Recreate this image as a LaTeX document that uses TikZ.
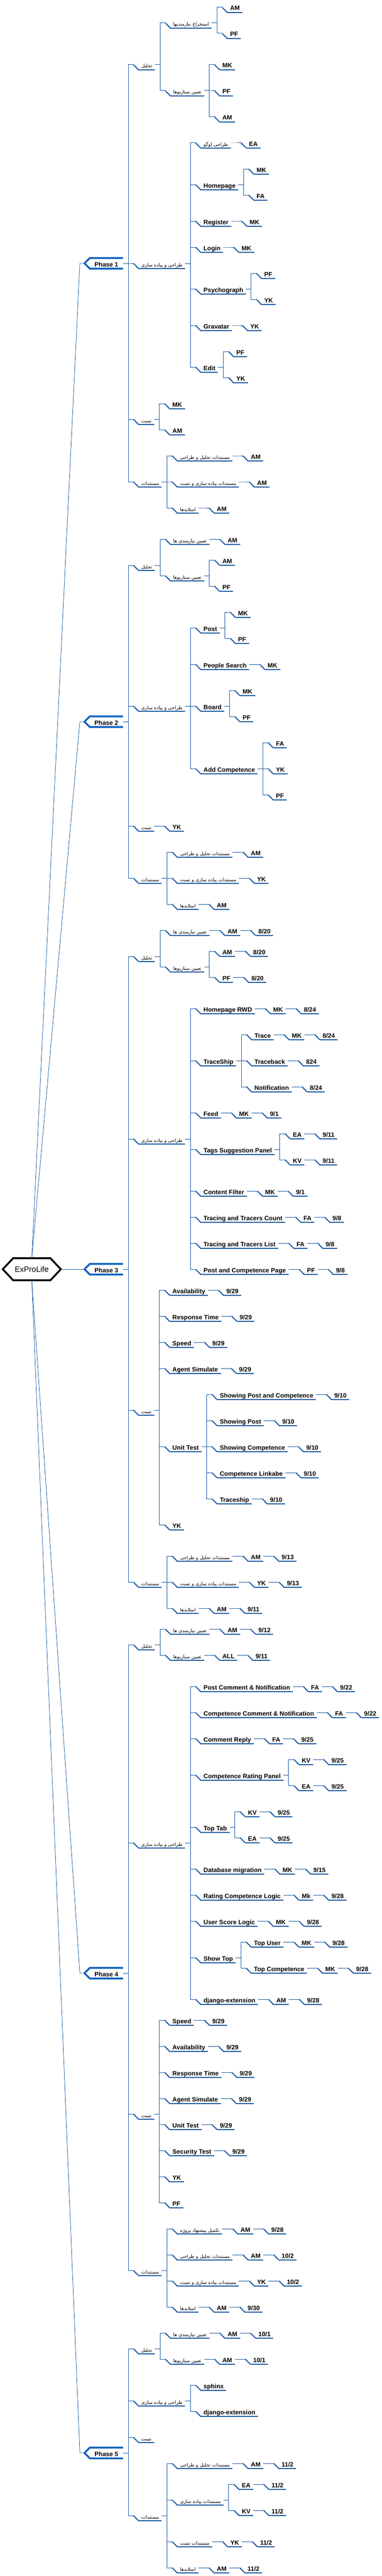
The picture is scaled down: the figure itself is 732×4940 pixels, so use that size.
\documentclass[tikz,border=0pt]{standalone}
\usepackage{fontspec}
\setmainfont{Liberation Sans}
\newfontfamily\farsifont[Script=Arabic]{DejaVu Sans}
\TeXXeTstate=1
\usetikzlibrary{positioning}
\definecolor{mapblue}{RGB}{28,92,164}
\definecolor{phaseblue}{RGB}{17,99,192}
\newcommand{\fatxt}[1]{\beginR#1\endR}
\tikzset{conn/.style = {draw=mapblue, line width=1pt}}
\tikzset{uline/.style = {draw=mapblue, line width=2pt}}
\tikzset{rootline/.style = {draw=mapblue, line width=0.8pt}}
\tikzset{topic/.style = {anchor=west, inner xsep=5pt, inner ysep=4pt, text height=12pt, text depth=0pt,
    font=\bfseries\fontsize{12}{14}\selectfont,
    append after command={([xshift=-10pt]\tikzlastnode.west) edge[uline] (\tikzlastnode.south west)
      (\tikzlastnode.south west) edge[uline] (\tikzlastnode.south east)}}}
\tikzset{fa/.style = {topic, font=\farsifont\fontsize{9}{11}\selectfont}}
\tikzset{kid/.style = {xshift=30pt}}
\tikzset{branch/.style = {to path={(\tikztostart.east) -- ++(10pt,0) |- ([xshift=-10pt]\tikztotarget.west)}}}
\tikzset{phase/.style = {anchor=east, inner xsep=9pt, inner ysep=4pt, text height=12pt, text depth=0pt,
    font=\bfseries\fontsize{12}{14}\selectfont}}
\tikzset{phaseline/.style = {draw=phaseblue, line width=3.5pt}}
\tikzset{rootnode/.style = {minimum width=71pt, minimum height=42pt, inner sep=0pt, font=\fontsize{15}{18}\selectfont}}

\begin{document}
\begin{tikzpicture}[x=1pt, y=-1pt]
  \useasboundingbox (0,0) rectangle (732,4940);

  \node[rootnode] (root) at (61,2434) {ExProLife};
  \draw[line width=3.5pt] (root.north west) -- (root.north east) -- ([xshift=20pt]root.east)
    -- (root.south east) -- (root.south west) -- ([xshift=-20pt]root.west) -- cycle;

  \node[phase] (p1) at (236,505) {Phase 1};
  \node[phase] (p2) at (236,1384) {Phase 2};
  \node[phase] (p3) at (236,2434) {Phase 3};
  \node[phase] (p4) at (236,3784) {Phase 4};
  \node[phase] (p5) at (236,4704) {Phase 5};
  \foreach \i in {1,...,5} {
    \draw[phaseline] (p\i.north east) -- (p\i.north west) -- ([xshift=-10pt]p\i.west)
      -- (p\i.south west) -- (p\i.south east);
  }
  \foreach \p in {p1,p2} {
    \draw[rootline] (root.north) -- ([xshift=-19pt]\p.west) -- ([xshift=-10pt]\p.west);
  }
  \foreach \p in {p4,p5} {
    \draw[rootline] (root.south) -- ([xshift=-19pt]\p.west) -- ([xshift=-10pt]\p.west);
  }
  \draw[rootline] ([xshift=20pt]root.east) -- ([xshift=-10pt]p3.west);

  % Phase 1
  \node[fa, kid] (p1a) at (p1.east |- 0,124) {\fatxt{تحلیل}};
  \node[fa, kid] (p1a1) at (p1a.east |- 0,44) {\fatxt{استخراج نیازمندیها}};
  \node[topic, kid] (p1a1a) at (p1a1.east |- 0,14) {AM};
  \node[topic, kid] (p1a1b) at (p1a1.east |- 0,64) {PF};
  \node[fa, kid] (p1a2) at (p1a.east |- 0,174) {\fatxt{تعیین سناریوها}};
  \node[topic, kid] (p1a2a) at (p1a2.east |- 0,124) {MK};
  \node[topic, kid] (p1a2b) at (p1a2.east |- 0,174) {PF};
  \node[topic, kid] (p1a2c) at (p1a2.east |- 0,224) {AM};
  \node[fa, kid] (p1b) at (p1.east |- 0,505) {\fatxt{طراحی و پیاده سازی}};
  \node[fa, kid] (p1b1) at (p1b.east |- 0,274) {\fatxt{طراحی لوگو}};
  \node[topic, right=30pt of p1b1] (p1b1a) {EA};
  \node[topic, kid] (p1b2) at (p1b.east |- 0,354) {Homepage};
  \node[topic, kid] (p1b2a) at (p1b2.east |- 0,324) {MK};
  \node[topic, kid] (p1b2b) at (p1b2.east |- 0,374) {FA};
  \node[topic, kid] (p1b3) at (p1b.east |- 0,424) {Register};
  \node[topic, right=30pt of p1b3] (p1b3a) {MK};
  \node[topic, kid] (p1b4) at (p1b.east |- 0,474) {Login};
  \node[topic, right=30pt of p1b4] (p1b4a) {MK};
  \node[topic, kid] (p1b5) at (p1b.east |- 0,554) {Psychograph};
  \node[topic, kid] (p1b5a) at (p1b5.east |- 0,524) {PF};
  \node[topic, kid] (p1b5b) at (p1b5.east |- 0,574) {YK};
  \node[topic, kid] (p1b6) at (p1b.east |- 0,624) {Gravatar};
  \node[topic, right=30pt of p1b6] (p1b6a) {YK};
  \node[topic, kid] (p1b7) at (p1b.east |- 0,704) {Edit};
  \node[topic, kid] (p1b7a) at (p1b7.east |- 0,674) {PF};
  \node[topic, kid] (p1b7b) at (p1b7.east |- 0,724) {YK};
  \node[fa, kid] (p1c) at (p1.east |- 0,804) {\fatxt{تست}};
  \node[topic, kid] (p1c1) at (p1c.east |- 0,774) {MK};
  \node[topic, kid] (p1c2) at (p1c.east |- 0,824) {AM};
  \node[fa, kid] (p1d) at (p1.east |- 0,924) {\fatxt{مستندات}};
  \node[fa, kid] (p1d1) at (p1d.east |- 0,874) {\fatxt{مستندات تحلیل و طراحی}};
  \node[topic, right=30pt of p1d1] (p1d1a) {AM};
  \node[fa, kid] (p1d2) at (p1d.east |- 0,924) {\fatxt{مستندات پیاده سازی و تست}};
  \node[topic, right=30pt of p1d2] (p1d2a) {AM};
  \node[fa, kid] (p1d3) at (p1d.east |- 0,974) {\fatxt{اسلایدها}};
  \node[topic, right=30pt of p1d3] (p1d3a) {AM};
  \foreach \a/\b in {p1/p1a, p1a/p1a1, p1a1/p1a1a, p1a1/p1a1b, p1a/p1a2, p1a2/p1a2a, p1a2/p1a2b,
      p1a2/p1a2c, p1/p1b, p1b/p1b1, p1b1/p1b1a, p1b/p1b2, p1b2/p1b2a, p1b2/p1b2b, p1b/p1b3,
      p1b3/p1b3a, p1b/p1b4, p1b4/p1b4a, p1b/p1b5, p1b5/p1b5a, p1b5/p1b5b, p1b/p1b6, p1b6/p1b6a,
      p1b/p1b7, p1b7/p1b7a, p1b7/p1b7b, p1/p1c, p1c/p1c1, p1c/p1c2, p1/p1d, p1d/p1d1, p1d1/p1d1a,
      p1d/p1d2, p1d2/p1d2a, p1d/p1d3, p1d3/p1d3a}
    \draw[conn] (\a) to[branch] (\b);

  % Phase 2
  \node[fa, kid] (p2a) at (p2.east |- 0,1084) {\fatxt{تحلیل}};
  \node[fa, kid] (p2a1) at (p2a.east |- 0,1034) {\fatxt{تعیین نیازمندی ها}};
  \node[topic, right=30pt of p2a1] (p2a1a) {AM};
  \node[fa, kid] (p2a2) at (p2a.east |- 0,1104) {\fatxt{تعیین سناریوها}};
  \node[topic, kid] (p2a2a) at (p2a2.east |- 0,1074) {AM};
  \node[topic, kid] (p2a2b) at (p2a2.east |- 0,1124) {PF};
  \node[fa, kid] (p2b) at (p2.east |- 0,1354) {\fatxt{طراحی و پیاده سازی}};
  \node[topic, kid] (p2b1) at (p2b.east |- 0,1204) {Post};
  \node[topic, kid] (p2b1a) at (p2b1.east |- 0,1174) {MK};
  \node[topic, kid] (p2b1b) at (p2b1.east |- 0,1224) {PF};
  \node[topic, kid] (p2b2) at (p2b.east |- 0,1274) {People Search};
  \node[topic, right=30pt of p2b2] (p2b2a) {MK};
  \node[topic, kid] (p2b3) at (p2b.east |- 0,1354) {Board};
  \node[topic, kid] (p2b3a) at (p2b3.east |- 0,1324) {MK};
  \node[topic, kid] (p2b3b) at (p2b3.east |- 0,1374) {PF};
  \node[topic, kid] (p2b4) at (p2b.east |- 0,1474) {Add Competence};
  \node[topic, kid] (p2b4a) at (p2b4.east |- 0,1424) {FA};
  \node[topic, kid] (p2b4b) at (p2b4.east |- 0,1474) {YK};
  \node[topic, kid] (p2b4c) at (p2b4.east |- 0,1524) {PF};
  \node[fa, kid] (p2c) at (p2.east |- 0,1584) {\fatxt{تست}};
  \node[topic, right=30pt of p2c] (p2c1) {YK};
  \node[fa, kid] (p2d) at (p2.east |- 0,1684) {\fatxt{مستندات}};
  \node[fa, kid] (p2d1) at (p2d.east |- 0,1634) {\fatxt{مستندات تحلیل و طراحی}};
  \node[topic, right=30pt of p2d1] (p2d1a) {AM};
  \node[fa, kid] (p2d2) at (p2d.east |- 0,1684) {\fatxt{مستندات پیاده سازی و تست}};
  \node[topic, right=30pt of p2d2] (p2d2a) {YK};
  \node[fa, kid] (p2d3) at (p2d.east |- 0,1734) {\fatxt{اسلایدها}};
  \node[topic, right=30pt of p2d3] (p2d3a) {AM};
  \foreach \a/\b in {p2/p2a, p2a/p2a1, p2a1/p2a1a, p2a/p2a2, p2a2/p2a2a, p2a2/p2a2b, p2/p2b,
      p2b/p2b1, p2b1/p2b1a, p2b1/p2b1b, p2b/p2b2, p2b2/p2b2a, p2b/p2b3, p2b3/p2b3a, p2b3/p2b3b,
      p2b/p2b4, p2b4/p2b4a, p2b4/p2b4b, p2b4/p2b4c, p2/p2c, p2c/p2c1, p2/p2d, p2d/p2d1,
      p2d1/p2d1a, p2d/p2d2, p2d2/p2d2a, p2d/p2d3, p2d3/p2d3a}
    \draw[conn] (\a) to[branch] (\b);

  % Phase 3
  \node[fa, kid] (p3a) at (p3.east |- 0,1834) {\fatxt{تحلیل}};
  \node[fa, kid] (p3a1) at (p3a.east |- 0,1784) {\fatxt{تعیین نیازمندی ها}};
  \node[topic, right=30pt of p3a1] (p3a1a) {AM};
  \node[topic, right=30pt of p3a1a] (p3a1ad) {8/20};
  \node[fa, kid] (p3a2) at (p3a.east |- 0,1854) {\fatxt{تعیین سناریوها}};
  \node[topic, kid] (p3a2a) at (p3a2.east |- 0,1824) {AM};
  \node[topic, right=30pt of p3a2a] (p3a2ad) {8/20};
  \node[topic, kid] (p3a2b) at (p3a2.east |- 0,1874) {PF};
  \node[topic, right=30pt of p3a2b] (p3a2bd) {8/20};
  \node[fa, kid] (p3b) at (p3.east |- 0,2184) {\fatxt{طراحی و پیاده سازی}};
  \node[topic, kid] (p3b1) at (p3b.east |- 0,1934) {Homepage RWD};
  \node[topic, right=30pt of p3b1] (p3b1a) {MK};
  \node[topic, right=30pt of p3b1a] (p3b1ad) {8/24};
  \node[topic, kid] (p3b2) at (p3b.east |- 0,2034) {TraceShip};
  \node[topic, kid] (p3b2a) at (p3b2.east |- 0,1984) {Trace};
  \node[topic, right=30pt of p3b2a] (p3b2aa) {MK};
  \node[topic, right=30pt of p3b2aa] (p3b2aad) {8/24};
  \node[topic, kid] (p3b2b) at (p3b2.east |- 0,2034) {Traceback};
  \node[topic, right=30pt of p3b2b] (p3b2bd) {824};
  \node[topic, kid] (p3b2c) at (p3b2.east |- 0,2084) {Notification};
  \node[topic, right=30pt of p3b2c] (p3b2cd) {8/24};
  \node[topic, kid] (p3b3) at (p3b.east |- 0,2134) {Feed};
  \node[topic, right=30pt of p3b3] (p3b3a) {MK};
  \node[topic, right=30pt of p3b3a] (p3b3ad) {9/1};
  \node[topic, kid] (p3b4) at (p3b.east |- 0,2204) {Tags Suggestion Panel};
  \node[topic, kid] (p3b4a) at (p3b4.east |- 0,2174) {EA};
  \node[topic, right=30pt of p3b4a] (p3b4ad) {9/11};
  \node[topic, kid] (p3b4b) at (p3b4.east |- 0,2224) {KV};
  \node[topic, right=30pt of p3b4b] (p3b4bd) {9/11};
  \node[topic, kid] (p3b5) at (p3b.east |- 0,2284) {Content Filter};
  \node[topic, right=30pt of p3b5] (p3b5a) {MK};
  \node[topic, right=30pt of p3b5a] (p3b5ad) {9/1};
  \node[topic, kid] (p3b6) at (p3b.east |- 0,2334) {Tracing and Tracers Count};
  \node[topic, right=30pt of p3b6] (p3b6a) {FA};
  \node[topic, right=30pt of p3b6a] (p3b6ad) {9/8};
  \node[topic, kid] (p3b7) at (p3b.east |- 0,2384) {Tracing and Tracers List};
  \node[topic, right=30pt of p3b7] (p3b7a) {FA};
  \node[topic, right=30pt of p3b7a] (p3b7ad) {9/8};
  \node[topic, kid] (p3b8) at (p3b.east |- 0,2434) {Post and Competence Page};
  \node[topic, right=30pt of p3b8] (p3b8a) {PF};
  \node[topic, right=30pt of p3b8a] (p3b8ad) {9/8};
  \node[fa, kid] (p3c) at (p3.east |- 0,2704) {\fatxt{تست}};
  \node[topic, kid] (p3c1) at (p3c.east |- 0,2474) {Availability};
  \node[topic, right=30pt of p3c1] (p3c1d) {9/29};
  \node[topic, kid] (p3c2) at (p3c.east |- 0,2524) {Response Time};
  \node[topic, right=30pt of p3c2] (p3c2d) {9/29};
  \node[topic, kid] (p3c3) at (p3c.east |- 0,2574) {Speed};
  \node[topic, right=30pt of p3c3] (p3c3d) {9/29};
  \node[topic, kid] (p3c4) at (p3c.east |- 0,2624) {Agent Simulate};
  \node[topic, right=30pt of p3c4] (p3c4d) {9/29};
  \node[topic, kid] (p3c5) at (p3c.east |- 0,2774) {Unit Test};
  \node[topic, kid] (p3c5a) at (p3c5.east |- 0,2674) {Showing Post and Competence};
  \node[topic, right=30pt of p3c5a] (p3c5ad) {9/10};
  \node[topic, kid] (p3c5b) at (p3c5.east |- 0,2724) {Showing Post};
  \node[topic, right=30pt of p3c5b] (p3c5bd) {9/10};
  \node[topic, kid] (p3c5c) at (p3c5.east |- 0,2774) {Showing Competence};
  \node[topic, right=30pt of p3c5c] (p3c5cd) {9/10};
  \node[topic, kid] (p3c5e) at (p3c5.east |- 0,2824) {Competence Linkabe};
  \node[topic, right=30pt of p3c5e] (p3c5ed) {9/10};
  \node[topic, kid] (p3c5f) at (p3c5.east |- 0,2874) {Traceship};
  \node[topic, right=30pt of p3c5f] (p3c5fd) {9/10};
  \node[topic, kid] (p3c6) at (p3c.east |- 0,2924) {YK};
  \node[fa, kid] (p3d) at (p3.east |- 0,3034) {\fatxt{مستندات}};
  \node[fa, kid] (p3d1) at (p3d.east |- 0,2984) {\fatxt{مستندات تحلیل و طراحی}};
  \node[topic, right=30pt of p3d1] (p3d1a) {AM};
  \node[topic, right=30pt of p3d1a] (p3d1ad) {9/13};
  \node[fa, kid] (p3d2) at (p3d.east |- 0,3034) {\fatxt{مستندات پیاده سازی و تست}};
  \node[topic, right=30pt of p3d2] (p3d2a) {YK};
  \node[topic, right=30pt of p3d2a] (p3d2ad) {9/13};
  \node[fa, kid] (p3d3) at (p3d.east |- 0,3084) {\fatxt{اسلایدها}};
  \node[topic, right=30pt of p3d3] (p3d3a) {AM};
  \node[topic, right=30pt of p3d3a] (p3d3ad) {9/11};
  \foreach \a/\b in {p3/p3a, p3a/p3a1, p3a1/p3a1a, p3a1a/p3a1ad, p3a/p3a2, p3a2/p3a2a, p3a2a/p3a2ad,
      p3a2/p3a2b, p3a2b/p3a2bd, p3/p3b, p3b/p3b1, p3b1/p3b1a, p3b1a/p3b1ad, p3b/p3b2, p3b2/p3b2a,
      p3b2a/p3b2aa, p3b2aa/p3b2aad, p3b2/p3b2b, p3b2b/p3b2bd, p3b2/p3b2c, p3b2c/p3b2cd, p3b/p3b3,
      p3b3/p3b3a, p3b3a/p3b3ad, p3b/p3b4, p3b4/p3b4a, p3b4a/p3b4ad, p3b4/p3b4b, p3b4b/p3b4bd,
      p3b/p3b5, p3b5/p3b5a, p3b5a/p3b5ad, p3b/p3b6, p3b6/p3b6a, p3b6a/p3b6ad, p3b/p3b7, p3b7/p3b7a,
      p3b7a/p3b7ad, p3b/p3b8, p3b8/p3b8a, p3b8a/p3b8ad, p3/p3c, p3c/p3c1, p3c1/p3c1d, p3c/p3c2,
      p3c2/p3c2d, p3c/p3c3, p3c3/p3c3d, p3c/p3c4, p3c4/p3c4d, p3c/p3c5, p3c5/p3c5a, p3c5a/p3c5ad,
      p3c5/p3c5b, p3c5b/p3c5bd, p3c5/p3c5c, p3c5c/p3c5cd, p3c5/p3c5e, p3c5e/p3c5ed, p3c5/p3c5f,
      p3c5f/p3c5fd, p3c/p3c6, p3/p3d, p3d/p3d1, p3d1/p3d1a, p3d1a/p3d1ad, p3d/p3d2, p3d2/p3d2a,
      p3d2a/p3d2ad, p3d/p3d3, p3d3/p3d3a, p3d3a/p3d3ad}
    \draw[conn] (\a) to[branch] (\b);

  % Phase 4
  \node[fa, kid] (p4a) at (p4.east |- 0,3154) {\fatxt{تحلیل}};
  \node[fa, kid] (p4a1) at (p4a.east |- 0,3124) {\fatxt{تعیین نیازمندی ها}};
  \node[topic, right=30pt of p4a1] (p4a1a) {AM};
  \node[topic, right=30pt of p4a1a] (p4a1ad) {9/12};
  \node[fa, kid] (p4a2) at (p4a.east |- 0,3174) {\fatxt{تعیین سناریوها}};
  \node[topic, right=30pt of p4a2] (p4a2a) {ALL};
  \node[topic, right=30pt of p4a2a] (p4a2ad) {9/11};
  \node[fa, kid] (p4b) at (p4.east |- 0,3534) {\fatxt{طراحی و پیاده سازی}};
  \node[topic, kid] (p4b1) at (p4b.east |- 0,3234) {Post Comment \& Notification};
  \node[topic, right=30pt of p4b1] (p4b1a) {FA};
  \node[topic, right=30pt of p4b1a] (p4b1ad) {9/22};
  \node[topic, kid] (p4b2) at (p4b.east |- 0,3284) {Competence Comment \& Notification};
  \node[topic, right=30pt of p4b2] (p4b2a) {FA};
  \node[topic, right=30pt of p4b2a] (p4b2ad) {9/22};
  \node[topic, kid] (p4b3) at (p4b.east |- 0,3334) {Comment Reply};
  \node[topic, right=30pt of p4b3] (p4b3a) {FA};
  \node[topic, right=30pt of p4b3a] (p4b3ad) {9/25};
  \node[topic, kid] (p4b4) at (p4b.east |- 0,3404) {Competence Rating Panel};
  \node[topic, kid] (p4b4a) at (p4b4.east |- 0,3374) {KV};
  \node[topic, right=30pt of p4b4a] (p4b4ad) {9/25};
  \node[topic, kid] (p4b4b) at (p4b4.east |- 0,3424) {EA};
  \node[topic, right=30pt of p4b4b] (p4b4bd) {9/25};
  \node[topic, kid] (p4b5) at (p4b.east |- 0,3504) {Top Tab};
  \node[topic, kid] (p4b5a) at (p4b5.east |- 0,3474) {KV};
  \node[topic, right=30pt of p4b5a] (p4b5ad) {9/25};
  \node[topic, kid] (p4b5b) at (p4b5.east |- 0,3524) {EA};
  \node[topic, right=30pt of p4b5b] (p4b5bd) {9/25};
  \node[topic, kid] (p4b6) at (p4b.east |- 0,3584) {Database migration};
  \node[topic, right=30pt of p4b6] (p4b6a) {MK};
  \node[topic, right=30pt of p4b6a] (p4b6ad) {9/15};
  \node[topic, kid] (p4b7) at (p4b.east |- 0,3634) {Rating Competence Logic};
  \node[topic, right=30pt of p4b7] (p4b7a) {Mk};
  \node[topic, right=30pt of p4b7a] (p4b7ad) {9/28};
  \node[topic, kid] (p4b8) at (p4b.east |- 0,3684) {User Score Logic};
  \node[topic, right=30pt of p4b8] (p4b8a) {MK};
  \node[topic, right=30pt of p4b8a] (p4b8ad) {9/28};
  \node[topic, kid] (p4b9) at (p4b.east |- 0,3754) {Show Top};
  \node[topic, kid] (p4b9a) at (p4b9.east |- 0,3724) {Top User};
  \node[topic, right=30pt of p4b9a] (p4b9aa) {MK};
  \node[topic, right=30pt of p4b9aa] (p4b9aad) {9/28};
  \node[topic, kid] (p4b9b) at (p4b9.east |- 0,3774) {Top Competence};
  \node[topic, right=30pt of p4b9b] (p4b9ba) {MK};
  \node[topic, right=30pt of p4b9ba] (p4b9bad) {9/28};
  \node[topic, kid] (p4b10) at (p4b.east |- 0,3834) {django-extension};
  \node[topic, right=30pt of p4b10] (p4b10a) {AM};
  \node[topic, right=30pt of p4b10a] (p4b10ad) {9/28};
  \node[fa, kid] (p4c) at (p4.east |- 0,4054) {\fatxt{تست}};
  \node[topic, kid] (p4c1) at (p4c.east |- 0,3874) {Speed};
  \node[topic, right=30pt of p4c1] (p4c1d) {9/29};
  \node[topic, kid] (p4c2) at (p4c.east |- 0,3924) {Availability};
  \node[topic, right=30pt of p4c2] (p4c2d) {9/29};
  \node[topic, kid] (p4c3) at (p4c.east |- 0,3974) {Response Time};
  \node[topic, right=30pt of p4c3] (p4c3d) {9/29};
  \node[topic, kid] (p4c4) at (p4c.east |- 0,4024) {Agent Simulate};
  \node[topic, right=30pt of p4c4] (p4c4d) {9/29};
  \node[topic, kid] (p4c5) at (p4c.east |- 0,4074) {Unit Test};
  \node[topic, right=30pt of p4c5] (p4c5d) {9/29};
  \node[topic, kid] (p4c6) at (p4c.east |- 0,4124) {Security Test};
  \node[topic, right=30pt of p4c6] (p4c6d) {9/29};
  \node[topic, kid] (p4c7) at (p4c.east |- 0,4174) {YK};
  \node[topic, kid] (p4c8) at (p4c.east |- 0,4224) {PF};
  \node[fa, kid] (p4d) at (p4.east |- 0,4354) {\fatxt{مستندات}};
  \node[fa, kid] (p4d1) at (p4d.east |- 0,4274) {\fatxt{تکمیل پیشنهاد پروژه}};
  \node[topic, right=30pt of p4d1] (p4d1a) {AM};
  \node[topic, right=30pt of p4d1a] (p4d1ad) {9/28};
  \node[fa, kid] (p4d2) at (p4d.east |- 0,4324) {\fatxt{مستندات تحلیل و طراحی}};
  \node[topic, right=30pt of p4d2] (p4d2a) {AM};
  \node[topic, right=30pt of p4d2a] (p4d2ad) {10/2};
  \node[fa, kid] (p4d3) at (p4d.east |- 0,4374) {\fatxt{مستندات پیاده سازی و تست}};
  \node[topic, right=30pt of p4d3] (p4d3a) {YK};
  \node[topic, right=30pt of p4d3a] (p4d3ad) {10/2};
  \node[fa, kid] (p4d4) at (p4d.east |- 0,4424) {\fatxt{اسلایدها}};
  \node[topic, right=30pt of p4d4] (p4d4a) {AM};
  \node[topic, right=30pt of p4d4a] (p4d4ad) {9/30};
  \foreach \a/\b in {p4/p4a, p4a/p4a1, p4a1/p4a1a, p4a1a/p4a1ad, p4a/p4a2, p4a2/p4a2a, p4a2a/p4a2ad,
      p4/p4b, p4b/p4b1, p4b1/p4b1a, p4b1a/p4b1ad, p4b/p4b2, p4b2/p4b2a, p4b2a/p4b2ad, p4b/p4b3,
      p4b3/p4b3a, p4b3a/p4b3ad, p4b/p4b4, p4b4/p4b4a, p4b4a/p4b4ad, p4b4/p4b4b, p4b4b/p4b4bd,
      p4b/p4b5, p4b5/p4b5a, p4b5a/p4b5ad, p4b5/p4b5b, p4b5b/p4b5bd, p4b/p4b6, p4b6/p4b6a,
      p4b6a/p4b6ad, p4b/p4b7, p4b7/p4b7a, p4b7a/p4b7ad, p4b/p4b8, p4b8/p4b8a, p4b8a/p4b8ad,
      p4b/p4b9, p4b9/p4b9a, p4b9a/p4b9aa, p4b9aa/p4b9aad, p4b9/p4b9b, p4b9b/p4b9ba, p4b9ba/p4b9bad,
      p4b/p4b10, p4b10/p4b10a, p4b10a/p4b10ad, p4/p4c, p4c/p4c1, p4c1/p4c1d, p4c/p4c2, p4c2/p4c2d,
      p4c/p4c3, p4c3/p4c3d, p4c/p4c4, p4c4/p4c4d, p4c/p4c5, p4c5/p4c5d, p4c/p4c6, p4c6/p4c6d,
      p4c/p4c7, p4c/p4c8, p4/p4d, p4d/p4d1, p4d1/p4d1a, p4d1a/p4d1ad, p4d/p4d2, p4d2/p4d2a,
      p4d2a/p4d2ad, p4d/p4d3, p4d3/p4d3a, p4d3a/p4d3ad, p4d/p4d4, p4d4/p4d4a, p4d4a/p4d4ad}
    \draw[conn] (\a) to[branch] (\b);

  % Phase 5
  \node[fa, kid] (p5a) at (p5.east |- 0,4504) {\fatxt{تحلیل}};
  \node[fa, kid] (p5a1) at (p5a.east |- 0,4474) {\fatxt{تعیین نیازمندی ها}};
  \node[topic, right=30pt of p5a1] (p5a1a) {AM};
  \node[topic, right=30pt of p5a1a] (p5a1ad) {10/1};
  \node[fa, kid] (p5a2) at (p5a.east |- 0,4524) {\fatxt{تعیین سناریوها}};
  \node[topic, right=30pt of p5a2] (p5a2a) {AM};
  \node[topic, right=30pt of p5a2a] (p5a2ad) {10/1};
  \node[fa, kid] (p5b) at (p5.east |- 0,4604) {\fatxt{طراحی و پیاده سازی}};
  \node[topic, kid] (p5b1) at (p5b.east |- 0,4574) {sphinx};
  \node[topic, kid] (p5b2) at (p5b.east |- 0,4624) {django-extension};
  \node[fa, kid] (p5c) at (p5.east |- 0,4674) {\fatxt{تست}};
  \node[fa, kid] (p5d) at (p5.east |- 0,4824) {\fatxt{مستندات}};
  \node[fa, kid] (p5d1) at (p5d.east |- 0,4724) {\fatxt{مستندات تحلیل و طراحی}};
  \node[topic, right=30pt of p5d1] (p5d1a) {AM};
  \node[topic, right=30pt of p5d1a] (p5d1ad) {11/2};
  \node[fa, kid] (p5d2) at (p5d.east |- 0,4794) {\fatxt{مستندات پیاده سازی}};
  \node[topic, kid] (p5d2a) at (p5d2.east |- 0,4764) {EA};
  \node[topic, right=30pt of p5d2a] (p5d2ad) {11/2};
  \node[topic, kid] (p5d2b) at (p5d2.east |- 0,4814) {KV};
  \node[topic, right=30pt of p5d2b] (p5d2bd) {11/2};
  \node[fa, kid] (p5d3) at (p5d.east |- 0,4874) {\fatxt{مستندات تست}};
  \node[topic, right=30pt of p5d3] (p5d3a) {YK};
  \node[topic, right=30pt of p5d3a] (p5d3ad) {11/2};
  \node[fa, kid] (p5d4) at (p5d.east |- 0,4924) {\fatxt{اسلایدها}};
  \node[topic, right=30pt of p5d4] (p5d4a) {AM};
  \node[topic, right=30pt of p5d4a] (p5d4ad) {11/2};
  \foreach \a/\b in {p5/p5a, p5a/p5a1, p5a1/p5a1a, p5a1a/p5a1ad, p5a/p5a2, p5a2/p5a2a, p5a2a/p5a2ad,
      p5/p5b, p5b/p5b1, p5b/p5b2, p5/p5c, p5/p5d, p5d/p5d1, p5d1/p5d1a, p5d1a/p5d1ad, p5d/p5d2,
      p5d2/p5d2a, p5d2a/p5d2ad, p5d2/p5d2b, p5d2b/p5d2bd, p5d/p5d3, p5d3/p5d3a, p5d3a/p5d3ad,
      p5d/p5d4, p5d4/p5d4a, p5d4a/p5d4ad}
    \draw[conn] (\a) to[branch] (\b);
\end{tikzpicture}
\end{document}
